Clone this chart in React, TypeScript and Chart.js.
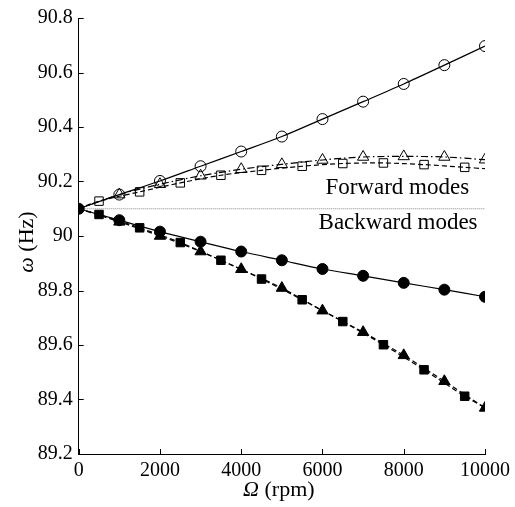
import React, { useEffect, useRef } from "react";
import { Chart, registerables } from "chart.js";

Chart.register(...registerables);

// Rotor speed (rpm)
const rpmFull = [0, 1000, 2000, 3000, 4000, 5000, 6000, 7000, 8000, 9000, 10000];
const rpmHalf = [0, 500, 1500, 2500, 3500, 4500, 5500, 6500, 7500, 8500, 9500, 10000];

// Forward modes (open markers)
const fwdCircle = [90.1, 90.152, 90.202, 90.256, 90.31, 90.365, 90.429, 90.493, 90.558, 90.627, 90.697];
const fwdTriangle = [90.1, 90.152, 90.19, 90.221, 90.245, 90.263, 90.279, 90.29, 90.292, 90.29, 90.28];
const fwdSquare = [90.1, 90.128, 90.162, 90.195, 90.223, 90.241, 90.256, 90.266, 90.268, 90.262, 90.252, 90.247];

// Backward modes (filled markers)
const bwdCircle = [90.1, 90.058, 90.016, 89.979, 89.943, 89.911, 89.879, 89.854, 89.828, 89.803, 89.777];
const bwdTriangle = [90.1, 90.052, 90.0, 89.943, 89.878, 89.809, 89.726, 89.647, 89.562, 89.467, 89.369];
const bwdSquare = [90.1, 90.079, 90.03, 89.976, 89.911, 89.842, 89.766, 89.686, 89.601, 89.509, 89.412, 89.37];

const refLevel = 90.1;
const xTicks = [0, 2000, 4000, 6000, 8000, 10000];
const yTicks = [89.2, 89.4, 89.6, 89.8, 90, 90.2, 90.4, 90.6, 90.8];
const forwardLabel = "Forward modes";
const backwardLabel = "Backward modes";

const SERIF = "'Liberation Serif', 'Times New Roman', serif";

const pts = (xs: number[], ys: number[]) => xs.map((x, i) => ({ x, y: ys[i] }));
const radii = (n: number, r: number, hideFirst: boolean, hideLast = false) =>
  Array.from({ length: n }, (_, i) => ((hideFirst && i === 0) || (hideLast && i === n - 1) ? 0 : r));

const decorPlugin = {
  id: "decor",
  afterDraw(chart: any) {
    const { ctx, chartArea, scales } = chart;
    const xs = scales.x;
    const ys = scales.y;
    ctx.save();
    ctx.strokeStyle = "#000";
    ctx.lineWidth = 1;
    ctx.beginPath();
    xTicks.forEach((v) => {
      const px = Math.round(xs.getPixelForValue(v)) + 0.5;
      ctx.moveTo(px, chartArea.bottom);
      ctx.lineTo(px, chartArea.bottom - 5);
    });
    yTicks.forEach((v) => {
      const py = Math.round(ys.getPixelForValue(v)) + 0.5;
      ctx.moveTo(chartArea.left, py);
      ctx.lineTo(chartArea.left + 5, py);
    });
    ctx.stroke();

    // annotations
    ctx.fillStyle = "#000";
    ctx.font = `23px ${SERIF}`;
    ctx.textAlign = "center";
    ctx.textBaseline = "middle";
    ctx.fillText(forwardLabel, xs.getPixelForValue(7840), ys.getPixelForValue(90.175));
    ctx.fillText(backwardLabel, xs.getPixelForValue(7860), ys.getPixelForValue(90.047));

    const drawMixed = (parts: { t: string; italic: boolean }[], cx: number, cy: number) => {
      const fonts = parts.map((p) => `${p.italic ? "italic " : ""}22px ${SERIF}`);
      let total = 0;
      const widths = parts.map((p, i) => {
        ctx.font = fonts[i];
        const w = ctx.measureText(p.t).width;
        total += w;
        return w;
      });
      let x = cx - total / 2;
      ctx.textAlign = "left";
      ctx.textBaseline = "middle";
      parts.forEach((p, i) => {
        ctx.font = fonts[i];
        ctx.fillText(p.t, x, cy);
        x += widths[i];
      });
    };
    drawMixed(
      [
        { t: "Ω", italic: true },
        { t: " (rpm)", italic: false },
      ],
      (chartArea.left + chartArea.right) / 2 - 3,
      490
    );
    ctx.save();
    ctx.translate(27, (chartArea.top + chartArea.bottom) / 2 + 6);
    ctx.rotate(-Math.PI / 2);
    drawMixed(
      [
        { t: "ω", italic: true },
        { t: " (Hz)", italic: false },
      ],
      0,
      0
    );
    ctx.restore();
    ctx.restore();
  },
};

export default function App() {
  const ref = useRef<HTMLCanvasElement | null>(null);
  useEffect(() => {
    if (!ref.current) return;
    const base = {
      borderColor: "#000",
      pointBorderColor: "#000",
      borderWidth: 1.2,
      pointBorderWidth: 1,
      tension: 0.3,
    };
    const chart = new Chart(ref.current, {
      type: "line",
      data: {
        datasets: [
          {
            ...base,
            data: pts(rpmFull, bwdCircle),
            pointStyle: "circle",
            pointRadius: radii(rpmFull.length, 5.5, false),
            pointBackgroundColor: "#000",
          },
          {
            ...base,
            data: pts(rpmHalf, bwdSquare),
            pointStyle: "rect",
            pointRadius: radii(rpmHalf.length, 6, true, true),
            pointBackgroundColor: "#000",
            borderDash: [5, 3],
          },
          {
            ...base,
            data: pts(rpmFull, bwdTriangle),
            pointStyle: "triangle",
            pointRadius: radii(rpmFull.length, 6.5, true),
            pointBackgroundColor: "#000",
            borderDash: [5, 3],
          },
          {
            ...base,
            data: pts(rpmFull, fwdCircle),
            pointStyle: "circle",
            pointRadius: radii(rpmFull.length, 5.5, true),
            pointBackgroundColor: "rgba(0,0,0,0)",
          },
          {
            ...base,
            data: pts(rpmHalf, fwdSquare),
            pointStyle: "rect",
            pointRadius: radii(rpmHalf.length, 6, true, true),
            pointBackgroundColor: "rgba(0,0,0,0)",
            borderDash: [5, 3],
          },
          {
            ...base,
            data: pts(rpmFull, fwdTriangle),
            pointStyle: "triangle",
            pointRadius: radii(rpmFull.length, 6.5, true),
            pointBackgroundColor: "rgba(0,0,0,0)",
            borderDash: [7, 3, 1.5, 3],
          },
          {
            data: pts([0, 10000], [refLevel, refLevel]),
            borderColor: "#888",
            borderWidth: 1,
            borderDash: [1, 1],
            pointRadius: 0,
          },
        ],
      },
      options: {
        responsive: false,
        devicePixelRatio: 1,
        animation: false,
        layout: { padding: { top: 16, right: 26.3, left: 0, bottom: 0 } },
        plugins: { legend: { display: false }, tooltip: { enabled: false } },
        scales: {
          x: {
            type: "linear",
            min: 0,
            max: 10000,
            afterFit: (s: any) => {
              s.height = 53;
            },
            afterBuildTicks: (s: any) => {
              s.ticks = xTicks.map((v) => ({ value: v }));
            },
            grid: { display: false, drawTicks: false, tickLength: 0 },
            border: { display: true, color: "#000", width: 1 },
            ticks: {
              color: "#000",
              font: { family: SERIF, size: 20 },
              padding: 5,
              maxRotation: 0,
              autoSkip: false,
              callback: (v: any) => String(v),
            },
          },
          y: {
            type: "linear",
            min: 89.2,
            max: 90.8,
            afterFit: (s: any) => {
              s.width = 78.7;
            },
            afterBuildTicks: (s: any) => {
              s.ticks = yTicks.map((v) => ({ value: v }));
            },
            grid: { display: false, drawTicks: false, tickLength: 0 },
            border: { display: true, color: "#000", width: 1 },
            ticks: {
              color: "#000",
              font: { family: SERIF, size: 20 },
              padding: 6,
              autoSkip: false,
              callback: (v: any) => String(Number(Number(v).toFixed(1))),
            },
          },
        },
      },
      plugins: [decorPlugin],
    });
    return () => chart.destroy();
  }, []);
  return (
    <div style={{ position: "fixed", left: 0, top: 0, width: 515, height: 507, background: "#fff" }}>
      <canvas ref={ref} width={515} height={507} />
    </div>
  );
}
